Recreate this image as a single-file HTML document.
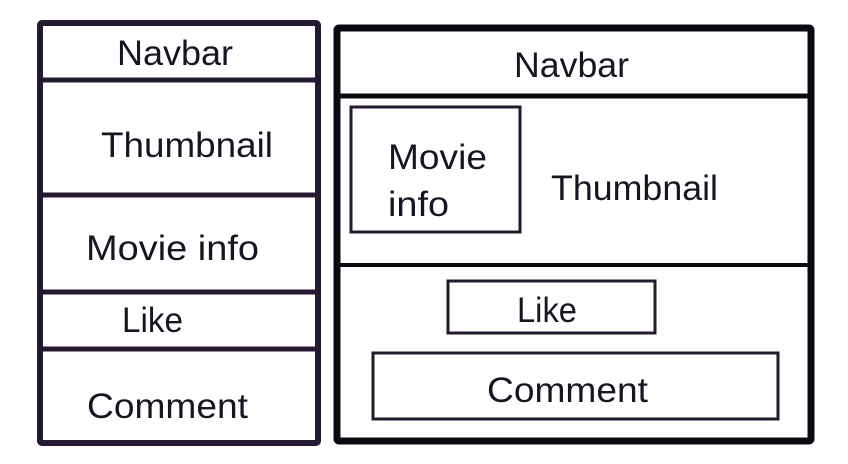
<!DOCTYPE html>
<html><head><meta charset="utf-8"><style>
html,body{margin:0;padding:0;background:#fff;}
svg{display:block;}
text{font-family:"Liberation Sans",sans-serif;font-size:35px;fill:#1a1422;}
</style></head><body>
<svg width="848" height="464" viewBox="0 0 848 464">
<g fill="none" stroke="#241a30" stroke-width="6" stroke-linejoin="round">
<rect x="40" y="23" width="278" height="420" rx="2"/>
<line x1="40" y1="80" x2="318" y2="80" stroke-width="5"/>
<line x1="40" y1="195" x2="318" y2="195" stroke-width="5"/>
<line x1="40" y1="292" x2="318" y2="292" stroke-width="5"/>
<line x1="40" y1="349" x2="318" y2="349" stroke-width="5"/>
</g>
<g fill="none" stroke="#0c0a10">
<rect x="337" y="28" width="474" height="413" rx="2" stroke-width="7"/>
<line x1="337" y1="96" x2="811" y2="96" stroke-width="5"/>
<line x1="337" y1="265" x2="811" y2="265" stroke-width="4"/>
<rect x="351" y="107" width="169" height="125" stroke-width="3" stroke="#231a2e"/>
<rect x="448" y="281" width="207" height="52" stroke-width="3" stroke="#231a2e"/>
<rect x="373" y="353" width="405" height="66" stroke-width="3" stroke="#231a2e"/>
</g>
<text x="117" y="65" textLength="116" lengthAdjust="spacingAndGlyphs">Navbar</text>
<text x="101" y="157" textLength="172" lengthAdjust="spacingAndGlyphs">Thumbnail</text>
<text x="86" y="260" textLength="173" lengthAdjust="spacingAndGlyphs">Movie info</text>
<text x="122" y="332" textLength="61" lengthAdjust="spacingAndGlyphs">Like</text>
<text x="87" y="418" textLength="161" lengthAdjust="spacingAndGlyphs">Comment</text>
<text x="514" y="77" textLength="115" lengthAdjust="spacingAndGlyphs">Navbar</text>
<text x="388" y="169" textLength="99" lengthAdjust="spacingAndGlyphs">Movie</text>
<text x="388" y="216" textLength="61" lengthAdjust="spacingAndGlyphs">info</text>
<text x="551" y="200" textLength="167" lengthAdjust="spacingAndGlyphs">Thumbnail</text>
<text x="517" y="322" textLength="60" lengthAdjust="spacingAndGlyphs">Like</text>
<text x="487" y="402" textLength="161" lengthAdjust="spacingAndGlyphs">Comment</text>
</svg>
</body></html>
